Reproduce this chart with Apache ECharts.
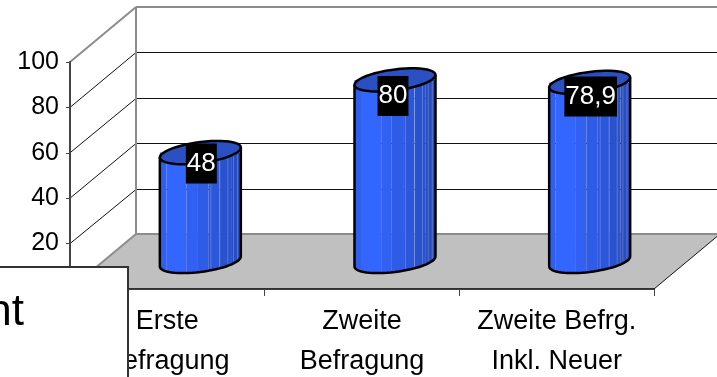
<!DOCTYPE html>
<html>
<head>
<meta charset="utf-8">
<style>html,body{margin:0;padding:0;background:#fff}#c{width:717px;height:377px}</style>
<script src="https://cdn.jsdelivr.net/npm/echarts@6/dist/echarts.min.js"></script>
</head>
<body>
<div id="c"></div>
<script>
// Survey results
const categories = ['Erste\nBefragung', 'Zweite\nBefragung', 'Zweite Befrg.\nInkl. Neuer'];
const values = [48, 80, 78.9];
const valueLabels = ['48', '80', '78,9'];
const yTicks = [0, 20, 40, 60, 80, 100];

// Oblique projection of the 3D box
const DEPTH = [66, -55];
const FONT = '"Liberation Sans", Arial, sans-serif';
const SIZE = 26;

// Cylinder shading: vertical facets from left to right
const facets = [
  [0, 0.08, '#2f5fee'], [0.08, 0.33, '#3366ff'], [0.33, 0.46, '#3160f2'],
  [0.46, 0.60, '#2e5ce6'], [0.60, 0.74, '#2c57da'], [0.74, 0.88, '#2a52cc'], [0.88, 1, '#284dc0']
];
const facetSeams = [0.63, 0.74, 0.84, 0.91, 0.96];
const labelNudge = [[1, 11], [-2, 16], [1, 14]];

const RX = 40.5, RY = 10.5, TILT = 5;

function rim(cx, cy, t) {
  return [cx + RX * Math.cos(t), cy - TILT * Math.cos(t) + RY * Math.sin(t)];
}
function arc(cx, cy, from, to, n) {
  const pts = [];
  for (let i = 0; i <= n; i++) pts.push(rim(cx, cy, from + (to - from) * i / n));
  return pts;
}
// y of the lower rim at a horizontal fraction u of the cylinder
function lowerAt(cx, cy, u) {
  const c = 2 * u - 1;
  return [cx + RX * c, cy - TILT * c + RY * Math.sqrt(Math.max(0, 1 - c * c))];
}

function renderShell(params, api) {
  const bl = api.coord([0, 0]), br = api.coord([3, 0]), tl = api.coord([0, 100]);
  const back = p => [p[0] + DEPTH[0], p[1] + DEPTH[1]];
  const kids = [{
    type: 'polygon',
    shape: { points: [bl, br, back(br), back(bl)] },
    style: { fill: '#c0c0c0' }
  }];
  yTicks.forEach(v => {
    const a = api.coord([0, v]), b = api.coord([3, v]);
    const edge = v === 0 || v === 100;
    const lineStyle = { stroke: edge ? '#8c8c8c' : '#111', lineWidth: edge ? 2 : 1, fill: null };
    // wall rules sit on a pixel row so they stay crisp
    const wallY = Math.round(back(a)[1]) + (edge ? 0 : 0.5);
    kids.push({ type: 'line', shape: { x1: back(a)[0], y1: wallY, x2: back(b)[0], y2: wallY }, style: lineStyle });
    kids.push({ type: 'line', shape: { x1: a[0], y1: a[1], x2: back(a)[0], y2: wallY }, style: lineStyle });
  });
  kids.push({ type: 'line', shape: { x1: back(bl)[0], y1: back(bl)[1], x2: back(tl)[0], y2: back(tl)[1] }, style: { stroke: '#8c8c8c', lineWidth: 2 } });
  kids.push({ type: 'line', shape: { x1: br[0], y1: br[1], x2: back(br)[0], y2: back(br)[1] }, style: { stroke: '#111', lineWidth: 1 } });
  return { type: 'group', children: kids };
}

function renderCylinder(params, api) {
  const i = params.dataIndex;
  const top = api.coord([api.value(0), api.value(1)]);
  const base = api.coord([api.value(0), 0]);
  const cx = top[0] + DEPTH[0] / 2;
  const cyTop = top[1] + DEPTH[1] / 2;
  const cyBase = base[1] + DEPTH[1] / 2;
  const kids = [];
  facets.forEach(f => {
    const pts = [[cx + RX * (2 * f[0] - 1), cyTop], [cx + RX * (2 * f[1] - 1), cyTop]];
    for (let k = 0; k <= 6; k++) pts.push(lowerAt(cx, cyBase, f[1] + (f[0] - f[1]) * k / 6));
    kids.push({ type: 'polygon', shape: { points: pts }, style: { fill: f[2] } });
  });
  facetSeams.forEach(u => {
    const end = lowerAt(cx, cyBase, u);
    kids.push({
      type: 'line',
      shape: { x1: end[0], y1: cyTop, x2: end[0], y2: end[1] - 2 },
      style: { stroke: 'rgba(255,255,255,0.22)', lineWidth: 1 }
    });
  });
  kids.push({
    type: 'polygon',
    shape: { points: arc(cx, cyTop, 0, Math.PI * 2, 48) },
    style: { fill: '#2a50c4', stroke: '#000', lineWidth: 2.5 }
  });
  const outline = [rim(cx, cyTop, Math.PI)].concat(arc(cx, cyBase, Math.PI, 0, 32), [rim(cx, cyTop, 0)]);
  kids.push({
    type: 'polyline',
    shape: { points: outline },
    style: { fill: null, stroke: '#000', lineWidth: 2.5 }
  });
  kids.push({
    type: 'text',
    x: cx + labelNudge[i][0],
    y: cyTop + labelNudge[i][1],
    style: {
      text: valueLabels[i], fill: '#fff', font: SIZE + 'px ' + FONT,
      align: 'center', verticalAlign: 'middle',
      backgroundColor: '#000', padding: [4, 1, 10, 1]
    }
  });
  return { type: 'group', children: kids };
}

const chart = echarts.init(document.getElementById('c'), null, { renderer: 'canvas' });
chart.setOption({
  animation: false,
  backgroundColor: '#fff',
  grid: { left: 70, top: 62, width: 584, height: 227, outerBoundsMode: 'none' },
  xAxis: [
    {
      type: 'category', data: categories, z: 5,
      axisLine: { lineStyle: { color: '#000', width: 1.5 } },
      axisTick: { show: true, length: 7, lineStyle: { color: '#444', width: 1 } },
      axisLabel: { color: '#000', fontFamily: FONT, fontSize: 27, lineHeight: 40, margin: 13, interval: 0 }
    },
    { type: 'value', min: 0, max: 3, show: false }
  ],
  yAxis: {
    type: 'value', min: 0, max: 100, interval: 20, z: 5,
    axisLine: { show: true, lineStyle: { color: '#444', width: 2 } },
    axisTick: { show: true, length: 4, lineStyle: { color: '#444', width: 1 } },
    axisLabel: { color: '#000', fontFamily: FONT, fontSize: 25, margin: 11, padding: [3, 0, 0, 0] },
    splitLine: { show: false }
  },
  series: [
    { type: 'custom', xAxisIndex: 1, yAxisIndex: 0, z: 1, silent: true, clip: false, data: [[0, 0]], renderItem: renderShell },
    {
      type: 'custom', xAxisIndex: 1, yAxisIndex: 0, z: 3, silent: true, clip: false,
      data: values.map((v, i) => [i + 0.5, v]), renderItem: renderCylinder
    }
  ],
  graphic: [
    {
      type: 'rect', z: 100, shape: { x: -3, y: 267, width: 131, height: 120 },
      style: { fill: '#fff', stroke: '#333', lineWidth: 2 }
    },
    {
      type: 'text', z: 101, x: 24, y: 335,
      style: { text: 'nt', fill: '#000', font: '44px ' + FONT, align: 'right', verticalAlign: 'bottom' }
    }
  ]
});
</script>
</body>
</html>
